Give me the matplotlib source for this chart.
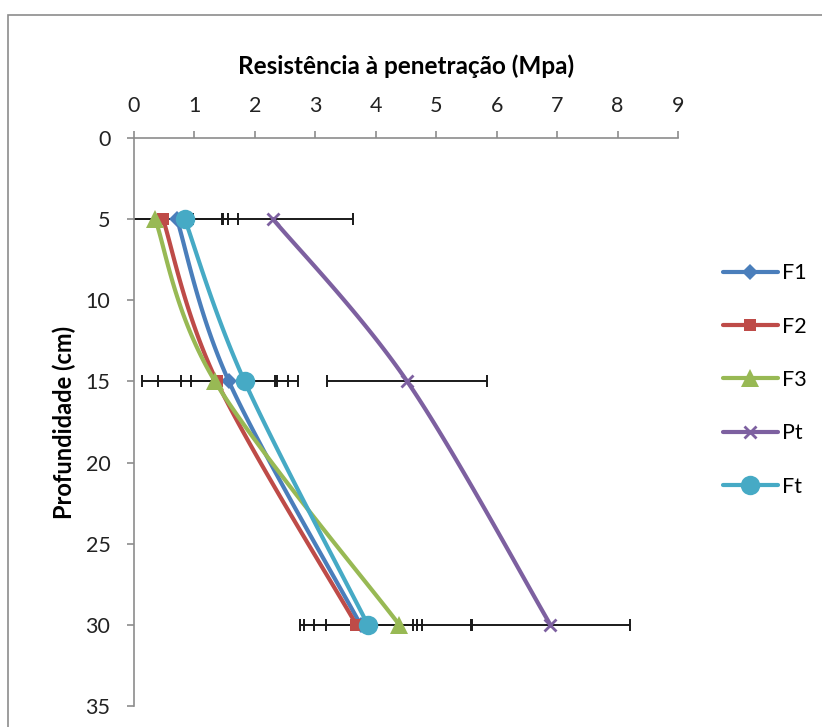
import numpy as np
import matplotlib
matplotlib.use("Agg")
import matplotlib.pyplot as plt
from matplotlib.lines import Line2D
from matplotlib.patches import Rectangle

plt.rcParams["font.family"] = ["Lato", "DejaVu Sans"]

depth = [5, 15, 30]
series = ["F1", "F2", "F3", "Pt", "Ft"]
values = {
    "F1": [0.71, 1.57, 3.75],
    "F2": [0.48, 1.37, 3.68],
    "F3": [0.35, 1.34, 4.39],
    "Pt": [2.30, 4.52, 6.89],
    "Ft": [0.84, 1.83, 3.87],
}
errors = {
    "F1": [0.76, 0.79, 0.94],
    "F2": [0.97, 0.97, 0.94],
    "F3": [1.21, 1.20, 1.21],
    "Pt": [1.32, 1.32, 1.32],
    "Ft": [0.88, 0.88, 0.89],
}
colors = {"F1": "#4A7EBB", "F2": "#BE4B48", "F3": "#98B954",
          "Pt": "#7D60A0", "Ft": "#46AAC5"}
markers = {"F1": ("D", 8), "F2": ("s", 9), "F3": ("^", 13),
           "Pt": ("x", 9), "Ft": ("o", 14)}

FS = 15.5


def smooth(ax, x, y, n=40):
    """Excel-like smoothed line (Bezier through points, in screen space)."""
    pts = ax.transData.transform(np.column_stack([x, y]))
    p = np.vstack([pts[0], pts, pts[-1]])
    segs = []
    t = np.linspace(0, 1, n)[:, None]
    for i in range(1, len(p) - 2):
        p0, p1, p2, p3 = p[i - 1], p[i], p[i + 1], p[i + 2]
        c1 = p1 + (p2 - p0) / 6
        c2 = p2 - (p3 - p1) / 6
        segs.append((1 - t)**3 * p1 + 3 * (1 - t)**2 * t * c1
                    + 3 * (1 - t) * t**2 * c2 + t**3 * p2)
    curve = ax.transData.inverted().transform(np.vstack(segs))
    return curve[:, 0], curve[:, 1]


fig = plt.figure(figsize=(8.22, 7.27), dpi=100)
fig.patches.append(Rectangle((8 / 822, -0.1), 1.0, (727 - 15) / 727 + 0.1,
                             transform=fig.transFigure, fill=False,
                             edgecolor="#8C8C8C", lw=1.2))

ax = fig.add_axes([134 / 822, 1 - 706 / 727, 544 / 822, 568 / 727])
ax.set_xlim(0, 9)
ax.set_ylim(35, 0)
ax.xaxis.tick_top()
ax.xaxis.set_label_position("top")
ax.set_xticks(range(0, 10))
ax.set_yticks(range(0, 36, 5))
for s in ["right", "bottom"]:
    ax.spines[s].set_visible(False)
for s in ["left", "top"]:
    ax.spines[s].set_color("#8C8C8C")
    ax.spines[s].set_linewidth(1.2)
ax.tick_params(axis="both", colors="#8C8C8C", labelcolor="#222222",
               labelsize=FS, length=5, width=1.2)
ax.tick_params(axis="x", pad=11)
ax.tick_params(axis="y", pad=12)
ax.set_xlabel("Resistência à penetração (Mpa)", fontsize=17.5,
              fontweight="bold", labelpad=16)
ax.set_ylabel("Profundidade (cm)", fontsize=17,
              fontweight="bold", labelpad=7)

for name in series:
    ax.errorbar(values[name], depth, xerr=errors[name], fmt="none",
                ecolor="#1A1A1A", elinewidth=1.4, capsize=4.5,
                capthick=1.4, zorder=2)

handles = []
for i, name in enumerate(series):
    xs, ys = smooth(ax, values[name], depth)
    ax.plot(xs, ys, color=colors[name], lw=3, zorder=3 + i,
            solid_capstyle="round")
    m, ms = markers[name]
    ax.plot(values[name], depth, ls="none", marker=m, ms=ms,
            color=colors[name], mew=2 if m == "x" else 0, zorder=3 + i,
            clip_on=False)
    handles.append(Line2D([], [], color=colors[name], lw=3, marker=m,
                          ms=ms, mew=2 if m == "x" else 0,
                          solid_capstyle="round", label=name))

fig.legend(handles=handles, loc="center left",
           bbox_to_anchor=(714 / 822, 1 - 380 / 727), frameon=False,
           borderaxespad=0, fontsize=FS, handlelength=2.55,
           handletextpad=0.2, labelspacing=1.55)

fig.savefig("out.png", dpi=100)
